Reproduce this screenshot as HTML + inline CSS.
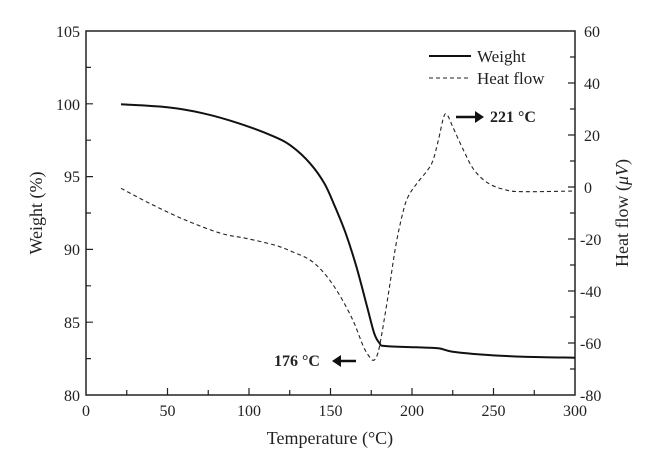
<!DOCTYPE html>
<html><head><meta charset="utf-8"><style>
body{margin:0;background:#fff}
svg{display:block;font-family:"Liberation Serif",serif}
</style></head><body>
<svg width="656" height="465" viewBox="0 0 656 465">
<rect x="86" y="31" width="489" height="364" fill="none" stroke="#222" stroke-width="1.5"/>
<g stroke="#222" stroke-width="1.2">
<path d="M126.75 395v-5M167.5 395v-7M208.25 395v-5M249 395v-7M289.75 395v-5M330.5 395v-7M371.25 395v-5M412 395v-7M452.75 395v-5M493.5 395v-7M534.25 395v-5"/>
<path d="M86 358.6h5M86 322.2h7M86 285.8h5M86 249.4h7M86 213h5M86 176.6h7M86 140.2h5M86 103.8h7M86 67.4h5"/>
<path d="M575 369h-5M575 343h-7M575 317h-5M575 291h-7M575 265h-5M575 239h-7M575 213h-5M575 187h-7M575 161h-5M575 135h-7M575 109h-5M575 83h-7M575 57h-5"/>
</g>
<g font-size="16" fill="#222" text-anchor="middle">
<text x="86" y="416">0</text><text x="167.5" y="416">50</text><text x="249" y="416">100</text><text x="330.5" y="416">150</text><text x="412" y="416">200</text><text x="493.5" y="416">250</text><text x="575" y="416">300</text>
</g>
<g font-size="16" fill="#222" text-anchor="end">
<text x="80" y="401">80</text><text x="80" y="328">85</text><text x="80" y="255">90</text><text x="80" y="182">95</text><text x="80" y="110">100</text><text x="80" y="37">105</text>
</g>
<g font-size="16" fill="#222" text-anchor="start">
<text x="580" y="401">-80</text><text x="580" y="349">-60</text><text x="580" y="297">-40</text><text x="580" y="245">-20</text><text x="584" y="193">0</text><text x="584" y="141">20</text><text x="584" y="89">40</text><text x="584" y="37">60</text>
</g>
<text x="330" y="444" font-size="18" text-anchor="middle" fill="#222">Temperature (°C)</text>
<text transform="translate(42,213) rotate(-90)" font-size="18" text-anchor="middle" fill="#222">Weight (%)</text>
<text transform="translate(628,213) rotate(-90)" font-size="18" text-anchor="middle" fill="#222">Heat flow (<tspan font-style="italic">μV</tspan>)</text>
<path id="w" fill="none" stroke="#111" stroke-width="2" stroke-linejoin="round" d="M121,104.3 L167.3,107.3 L203,113.3 L238.7,123.3 L274.3,136.7 L292.2,146.7 L310,163.3 L324.3,183.3 L335,206.7 L345.7,233.3 L356.4,266.7 L367.1,306.7 L374.2,333.3 L379.6,343.3 L384.9,346 L417,347.3 L438.4,348.3 L452.7,351.7 L488.4,355 L524,356.7 L575,357.7"/>
<path id="h" fill="none" stroke="#222" stroke-width="1.1" stroke-dasharray="4,3" stroke-linejoin="round" d="M121,188.3 L149.5,203.3 L185.2,220 L220.8,233.3 L245.8,238.3 L274.3,245 L292.2,251.7 L310,260 L324.3,273.3 L338.5,293.3 L352.8,320 L363.5,346.7 L370.6,358.3 L374.2,360 L377.8,353.3 L381.3,336.7 L388.5,293.3 L395.6,246.7 L402.7,213.3 L408.1,196.7 L417,183.3 L427.7,170 L433.1,160 L438.4,140 L443.8,116.7 L447.3,115 L452.7,126.7 L463.4,150 L474.1,170 L488.4,183.3 L506.2,190 L524,191.7 L575,191"/>
<line x1="429" y1="56" x2="471" y2="56" stroke="#111" stroke-width="2"/>
<line x1="429" y1="78" x2="471" y2="78" stroke="#222" stroke-width="1.1" stroke-dasharray="4,3"/>
<text x="477" y="62" font-size="17" fill="#222">Weight</text>
<text x="477" y="84" font-size="17" fill="#222">Heat flow</text>
<line x1="456" y1="117" x2="478" y2="117" stroke="#111" stroke-width="2.5"/>
<path d="M484,117 L475,111 L475,123 Z" fill="#111"/>
<text x="490" y="122" font-size="16" font-weight="bold" fill="#222">221 °C</text>
<line x1="356" y1="361" x2="339" y2="361" stroke="#111" stroke-width="2.5"/>
<path d="M332,361 L341,355 L341,367 Z" fill="#111"/>
<text x="274" y="366" font-size="16" font-weight="bold" fill="#222">176 °C</text>
</svg>
<script>
['w','h'].forEach(function(id){
  var el=document.getElementById(id);
  var nums=el.getAttribute('d').match(/-?[\d.]+/g).map(Number);
  var p=[];for(var i=0;i<nums.length;i+=2)p.push([nums[i],nums[i+1]]);
  var d='M'+p[0][0]+','+p[0][1];
  for(var i=0;i<p.length-1;i++){
    var p0=p[i-1]||p[i],p1=p[i],p2=p[i+1],p3=p[i+2]||p2,t=6;
    d+=' C'+(p1[0]+(p2[0]-p0[0])/t)+','+(p1[1]+(p2[1]-p0[1])/t)+' '+(p2[0]-(p3[0]-p1[0])/t)+','+(p2[1]-(p3[1]-p1[1])/t)+' '+p2[0]+','+p2[1];
  }
  el.setAttribute('d',d);
});
</script>
</body></html>
